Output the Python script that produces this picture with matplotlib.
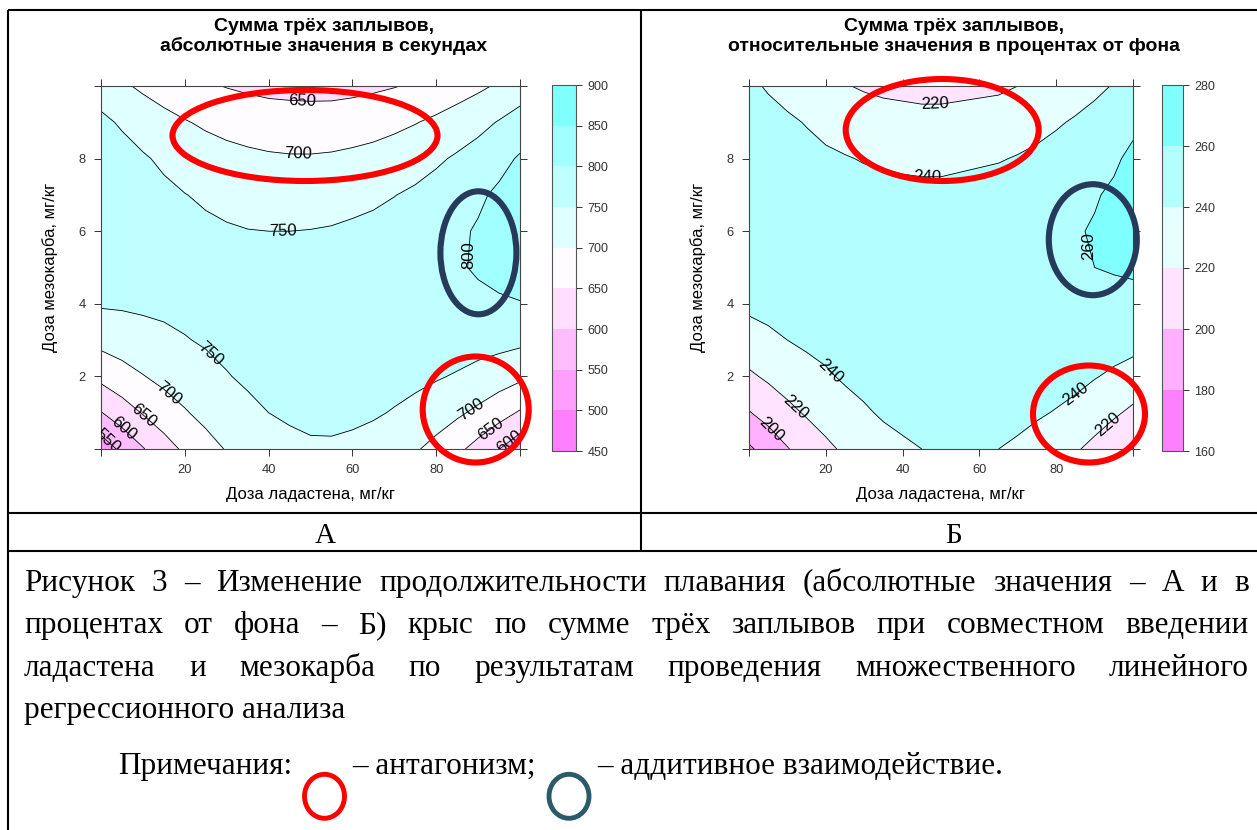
import colorsys
import numpy as np
import matplotlib
matplotlib.use('Agg')
import matplotlib.pyplot as plt
from matplotlib.colors import ListedColormap, BoundaryNorm
from matplotlib.cm import ScalarMappable
from matplotlib.patches import Ellipse

plt.rcParams['font.family'] = ['Liberation Sans', 'DejaVu Sans']

# --- data ---
ladasten_dose = [0, 5, 10, 15, 20, 25, 30, 35, 40, 45, 50, 55, 60, 65, 70, 75, 80, 85, 90, 95, 100]
mezokarb_dose = [0, 1, 2, 3, 4, 5, 6, 7, 8, 9, 10]

# sum of three swims, seconds (rows = mezokarb dose, cols = ladasten dose)
swim_abs = [
    [521, 561, 597, 630, 658, 682, 703, 719, 731, 739, 744, 744, 740, 732, 721, 705, 685, 661, 633, 601, 566],
    [598, 627, 653, 676, 696, 714, 729, 741, 750, 756, 760, 761, 759, 755, 747, 737, 724, 708, 690, 669, 645],
    [663, 681, 698, 713, 726, 738, 748, 756, 762, 767, 770, 772, 772, 770, 766, 761, 754, 746, 735, 723, 710],
    [715, 724, 733, 741, 748, 754, 760, 764, 769, 772, 775, 777, 778, 778, 778, 777, 775, 773, 769, 766, 761],
    [755, 756, 758, 759, 761, 763, 765, 767, 769, 771, 773, 775, 777, 780, 782, 784, 787, 790, 792, 795, 798],
    [781, 776, 772, 769, 766, 764, 763, 762, 762, 763, 765, 767, 770, 774, 778, 784, 790, 796, 804, 812, 821],
    [795, 785, 777, 769, 763, 758, 754, 751, 750, 750, 751, 753, 757, 761, 767, 775, 783, 793, 804, 816, 829],
    [797, 783, 771, 760, 751, 744, 738, 734, 731, 730, 731, 733, 737, 742, 749, 757, 768, 779, 793, 808, 824],
    [785, 769, 755, 742, 731, 722, 715, 710, 706, 704, 704, 706, 710, 715, 723, 732, 743, 756, 770, 786, 805],
    [761, 744, 728, 715, 703, 693, 685, 679, 675, 673, 672, 673, 677, 682, 689, 698, 709, 722, 736, 753, 771],
    [725, 707, 692, 678, 666, 656, 648, 642, 637, 635, 634, 634, 637, 642, 648, 656, 666, 678, 691, 706, 724],
]

# same, percent of baseline
swim_rel = [
    [177, 188, 199, 208, 216, 223, 229, 234, 237, 240, 242, 242, 241, 240, 237, 233, 228, 222, 215, 206, 197],
    [199, 207, 215, 222, 228, 234, 238, 242, 245, 247, 248, 249, 248, 247, 245, 242, 239, 235, 229, 223, 216],
    [217, 223, 229, 234, 238, 242, 245, 248, 250, 252, 253, 253, 253, 253, 251, 250, 247, 245, 241, 237, 233],
    [232, 236, 240, 243, 245, 248, 250, 252, 253, 254, 255, 256, 256, 256, 255, 254, 253, 252, 250, 248, 246],
    [244, 246, 247, 249, 250, 251, 252, 253, 254, 255, 256, 256, 256, 257, 257, 257, 257, 257, 257, 256, 256],
    [253, 252, 252, 252, 252, 252, 252, 253, 253, 253, 254, 254, 255, 256, 256, 257, 258, 259, 260, 261, 262],
    [258, 256, 254, 253, 252, 251, 250, 250, 250, 250, 250, 251, 251, 252, 254, 255, 257, 259, 261, 263, 266],
    [259, 256, 253, 251, 249, 247, 246, 245, 244, 244, 244, 245, 246, 247, 248, 250, 253, 256, 259, 262, 266],
    [258, 253, 249, 246, 243, 241, 239, 238, 237, 236, 236, 237, 238, 239, 241, 244, 247, 250, 254, 258, 263],
    [252, 247, 243, 239, 235, 232, 230, 228, 227, 226, 226, 227, 228, 229, 232, 234, 238, 242, 246, 251, 257],
    [244, 238, 233, 228, 224, 221, 218, 216, 215, 214, 214, 215, 216, 217, 220, 223, 227, 231, 236, 241, 248],
]

levels_abs = [450, 500, 550, 600, 650, 700, 750, 800, 850, 900]
levels_rel = [160, 180, 200, 220, 240, 260, 280]

# label positions (dose ladasten, dose mezokarb) for contour numbers
labels_abs = [(48, 9.73), (47, 8.29), (43.5, 6.09), (86, 5.35), (27, 2.73), (17, 1.63),
              (11, 1.03), (5.8, 0.61), (2.2, 0.29), (87.8, 1.18), (92.6, 0.61), (96.6, 0.32)]
labels_rel = [(48.4, 9.64), (46.4, 7.63), (84.8, 5.49), (22, 2.23), (12.1, 1.17),
              (5.4, 0.49), (84.8, 1.54), (93, 0.72)]


def lattice_colors(n):
    # magenta -> white -> cyan, like rev(cm.colors(100)) sampled for n bands
    full = []
    for i in range(50):
        full.append(colorsys.hsv_to_rgb(10 / 12, 0.5 - i * 0.01, 1))
    for i in range(50):
        full.append(colorsys.hsv_to_rgb(6 / 12, 0.01 + i * 0.01, 1))
    idx = [int(np.floor(1 + i * 99 / (n - 1))) - 1 for i in range(n)]
    return [full[k] for k in idx]


W, H = 1257, 830
fig = plt.figure(figsize=(W / 100, H / 100), dpi=100)


def px_axes(l, t, r, b):
    return fig.add_axes([l / W, 1 - b / H, (r - l) / W, (b - t) / H])


def panel(box, cbox, z, levels, lab_pos, title, cx):
    ax = px_axes(*box)
    cols = lattice_colors(len(levels) - 1)
    ax.contourf(ladasten_dose, mezokarb_dose, z, levels=levels, colors=cols)
    cs = ax.contour(ladasten_dose, mezokarb_dose, z, levels=levels, colors='black',
                    linewidths=0.6)
    texts = ax.clabel(cs, levels=levels, manual=lab_pos, inline=False, fontsize=12, fmt='%d')
    for t in texts:
        # the label on the closed loop at the right edge reads upward
        if t.get_text() in ('800', '260'):
            t.set_rotation(90)
    ax.set_xlim(0, 100)
    ax.set_ylim(0, 10)
    ax.set_xticks([0, 20, 40, 60, 80, 100])
    ax.set_xticklabels(['', '20', '40', '60', '80', ''])
    ax.set_yticks([0, 2, 4, 6, 8, 10])
    ax.set_yticklabels(['', '2', '4', '6', '8', ''])
    ax.tick_params(top=True, right=True, direction='out', length=5, width=0.7,
                   colors='#333333', labelsize=9.3, pad=6)
    for s in ax.spines.values():
        s.set_color('#444444')
        s.set_linewidth(0.8)

    cax = px_axes(*cbox)
    sm = ScalarMappable(norm=BoundaryNorm(levels, len(cols)), cmap=ListedColormap(cols))
    cb = fig.colorbar(sm, cax=cax, ticks=levels)
    cb.outline.set_edgecolor('#555555')
    cb.outline.set_linewidth(0.8)
    cax.tick_params(direction='out', length=4.3, width=0.7, colors='#333333',
                    labelsize=9, pad=4)

    xc = (box[0] + box[2]) / 2
    ax0.text(cx, 31, title[0], ha='center', va='baseline', fontsize=14, weight='bold')
    ax0.text(cx, 51, title[1], ha='center', va='baseline', fontsize=14, weight='bold')
    ax0.text(xc, 499, 'Доза ладастена, мг/кг', ha='center', va='baseline', fontsize=12)
    ax0.text(box[0] - 51, 267.5, 'Доза мезокарба, мг/кг', ha='center', va='center',
             rotation=90, fontsize=12)
    return ax


# overlay in pixel units for table, texts and marks
ax0 = fig.add_axes([0, 0, 1, 1])
ax0.set_xlim(0, W)
ax0.set_ylim(H, 0)
ax0.axis('off')
ax0.set_zorder(10)
ax0.patch.set_alpha(0)

panel((101, 86, 520, 449), (552, 85, 576, 451), swim_abs, levels_abs, labels_abs,
      ('Сумма трёх заплывов,', 'абсолютные значения в секундах'), 324)
panel((749, 86, 1133, 449), (1162, 85, 1183, 451), swim_rel, levels_rel, labels_rel,
      ('Сумма трёх заплывов,', 'относительные значения в процентах от фона'), 954)

# table grid
lk = dict(color='black', lw=1.5, solid_capstyle='butt')
ax0.plot([8, W], [10.5, 10.5], **lk)
ax0.plot([8, 8], [10.5, H], **lk)
ax0.plot([641, 641], [10.5, 551], **lk)
ax0.plot([8, W], [513, 513], **lk)
ax0.plot([8, W], [551, 551], **lk)

serif = ['Liberation Serif', 'DejaVu Serif']
ax0.text(325, 543, 'А', ha='center', va='baseline', fontsize=21, family=serif)
ax0.text(954, 543, 'Б', ha='center', va='baseline', fontsize=21, family=serif)

# annotation ellipses
red = '#FF0000'
navy = '#263B5C'
for cx, cy, w, h, c in [(305, 135.5, 265, 91, red), (478.4, 252.8, 76, 123, navy),
                        (475.7, 409.5, 106, 106, red), (942.2, 130, 193, 102, red),
                        (1092.8, 239.7, 88, 111, navy), (1089, 414, 112, 97, red)]:
    ax0.add_patch(Ellipse((cx, cy), w, h, fill=False, ec=c, lw=4.4))

# caption, justified
renderer = fig.canvas.get_renderer()
caption = [
    'Рисунок 3 – Изменение продолжительности плавания (абсолютные значения – А и в',
    'процентах от фона – Б) крыс по сумме трёх заплывов при совместном введении',
    'ладастена и мезокарба по результатам проведения множественного линейного',
]
x_left, x_right = 24, 1249
for line, yb in zip(caption, [590.5, 633, 675.5]):
    words = line.split(' ')
    ts = [ax0.text(0, yb, w, va='baseline', fontsize=22.5, family=serif) for w in words]
    ws = [t.get_window_extent(renderer=renderer).width for t in ts]
    gap = (x_right - x_left - sum(ws)) / (len(ws) - 1)
    x = x_left
    for t, w in zip(ts, ws):
        t.set_x(x)
        x += w + gap
ax0.text(x_left, 718, 'регрессионного анализа', va='baseline', fontsize=22.5, family=serif)

ax0.text(118, 774, 'Примечания:', va='baseline', fontsize=22.5, family=serif)
ax0.text(352, 774, '– антагонизм;', va='baseline', fontsize=22.5, family=serif)
ax0.text(597, 774, '– аддитивное взаимодействие.', va='baseline', fontsize=22.5, family=serif)
ax0.add_patch(Ellipse((324.5, 796.3), 40, 44, fill=False, ec=red, lw=3.5))
ax0.add_patch(Ellipse((569, 796.3), 40, 44, fill=False, ec='#2B5B6B', lw=3.5))

fig.savefig('out.png', dpi=100)
